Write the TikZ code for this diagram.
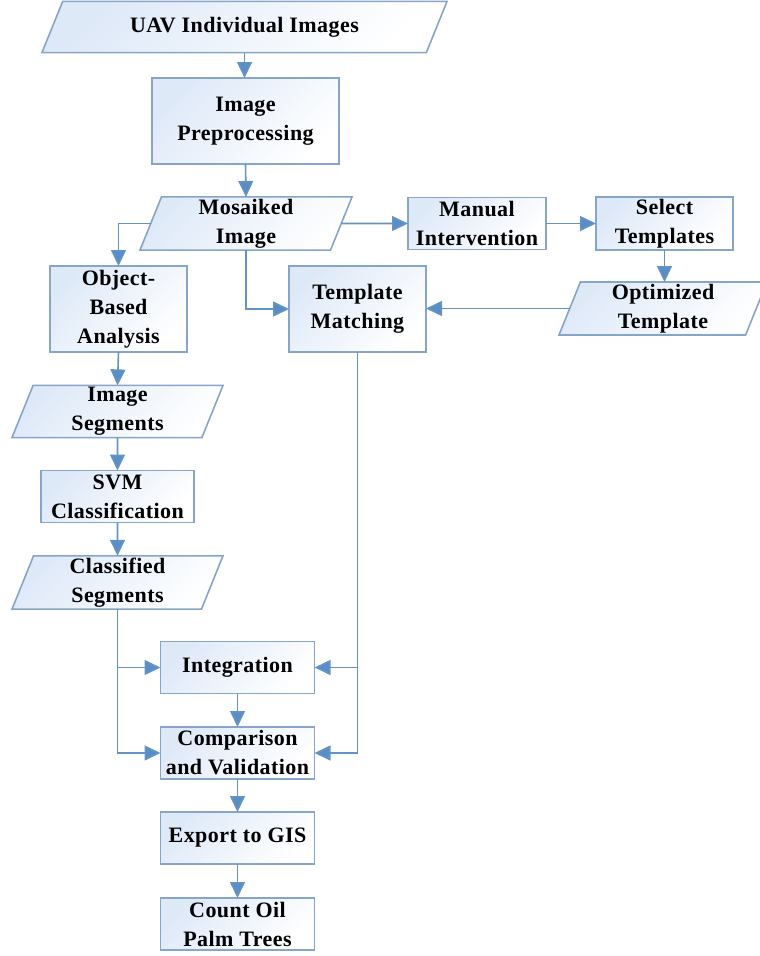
\documentclass[tikz,border=0pt]{standalone}
\usepackage{fontspec}
\setmainfont[LetterSpace=2]{Liberation Serif}
\usetikzlibrary{arrows.meta}
\usetikzlibrary{shapes.geometric}
\definecolor{boxline}{RGB}{135,165,200}
\definecolor{boxfill}{RGB}{222,233,248}
\definecolor{flowline}{RGB}{100,148,198}
\definecolor{tipfill}{RGB}{88,142,200}
\tikzset{base/.style = {draw=boxline, line width=1.6pt, outer sep=0pt,
                        top color=boxfill, bottom color=white, shading angle=45,
                        align=center, inner sep=2pt,
                        font=\bfseries\fontsize{22}{29}\selectfont},
         process/.style = {base, rectangle, minimum height=52pt},
         io/.style = {base, trapezium, trapezium left angle=68,
                      trapezium right angle=112, trapezium stretches body,
                      minimum height=51pt},
         flow/.style = {draw=flowline, line width=1.6pt,
                        -{Triangle[length=16pt, width=15pt, fill=tipfill]}}}

\begin{document}
\begin{tikzpicture}[x=1pt, y=-1pt]
    \useasboundingbox (0,0) rectangle (760,956);

    % main column
    \node [io, minimum width=405pt, inner ysep=15.5pt] (uav) at (244.5,27) {UAV Individual Images};
    \node [process, minimum width=187pt, minimum height=86pt] (pre) at (245.5,121) {Image\\Preprocessing};
    \node [io, minimum width=212pt] (mos) at (246,223.5) {Mosaiked\\Image};

    % template branch
    \node [process, minimum width=138pt] (man) at (477,223.5) {Manual\\Intervention};
    \node [process, minimum width=137pt] (sel) at (664.5,223.5) {Select\\Templates};
    \node [io, minimum width=208pt] (opt) at (663,308.5) {Optimized\\Template};
    \node [process, minimum width=137pt, minimum height=86pt] (tm) at (357.5,309) {Template\\Matching};

    % object based branch
    \node [process, minimum width=137pt, minimum height=86pt] (obj) at (118.5,309) {Object-\\Based\\Analysis};
    \node [io, minimum width=211pt] (seg) at (117.5,411.5) {Image\\Segments};
    \node [process, minimum width=153pt] (svm) at (117.5,496.5) {SVM\\Classification};
    \node [io, minimum width=211pt] (cls) at (117.5,582.5) {Classified\\Segments};

    % results
    \node [process, minimum width=154pt] (int) at (237.5,667.5) {Integration};
    \node [process, minimum width=154pt] (cmp) at (237.5,753) {Comparison\\and Validation};
    \node [process, minimum width=154pt] (gis) at (237.5,838) {Export to GIS};
    \node [process, minimum width=154pt] (cnt) at (237.5,924) {Count Oil\\Palm Trees};

    \draw [flow] (uav.south) -- (uav.south |- pre.north);
    \draw [flow] (pre.south) -- (mos.north);
    \draw [flow] (mos.west) -| (obj.north);
    \draw [flow] (mos.south) |- (tm.west);
    \draw [flow] (mos.east) -- (man.west);
    \draw [flow] (man.east) -- (sel.west);
    \draw [flow] (sel.south) -- (sel.south |- opt.north);
    \draw [flow] (opt.west) -- (opt.west -| tm.east);

    \draw [flow] (obj.south) -- (seg.north);
    \draw [flow] (seg.south) -- (svm.north);
    \draw [flow] (svm.south) -- (cls.north);

    \draw [flow] (cls.south) |- (int.west);
    \draw [flow] (cls.south) |- (cmp.west);
    \draw [flow] (tm.south) |- (int.east);
    \draw [flow] (tm.south) |- (cmp.east);

    \draw [flow] (int.south) -- (cmp.north);
    \draw [flow] (cmp.south) -- (gis.north);
    \draw [flow] (gis.south) -- (cnt.north);
  \end{tikzpicture}
\end{document}
